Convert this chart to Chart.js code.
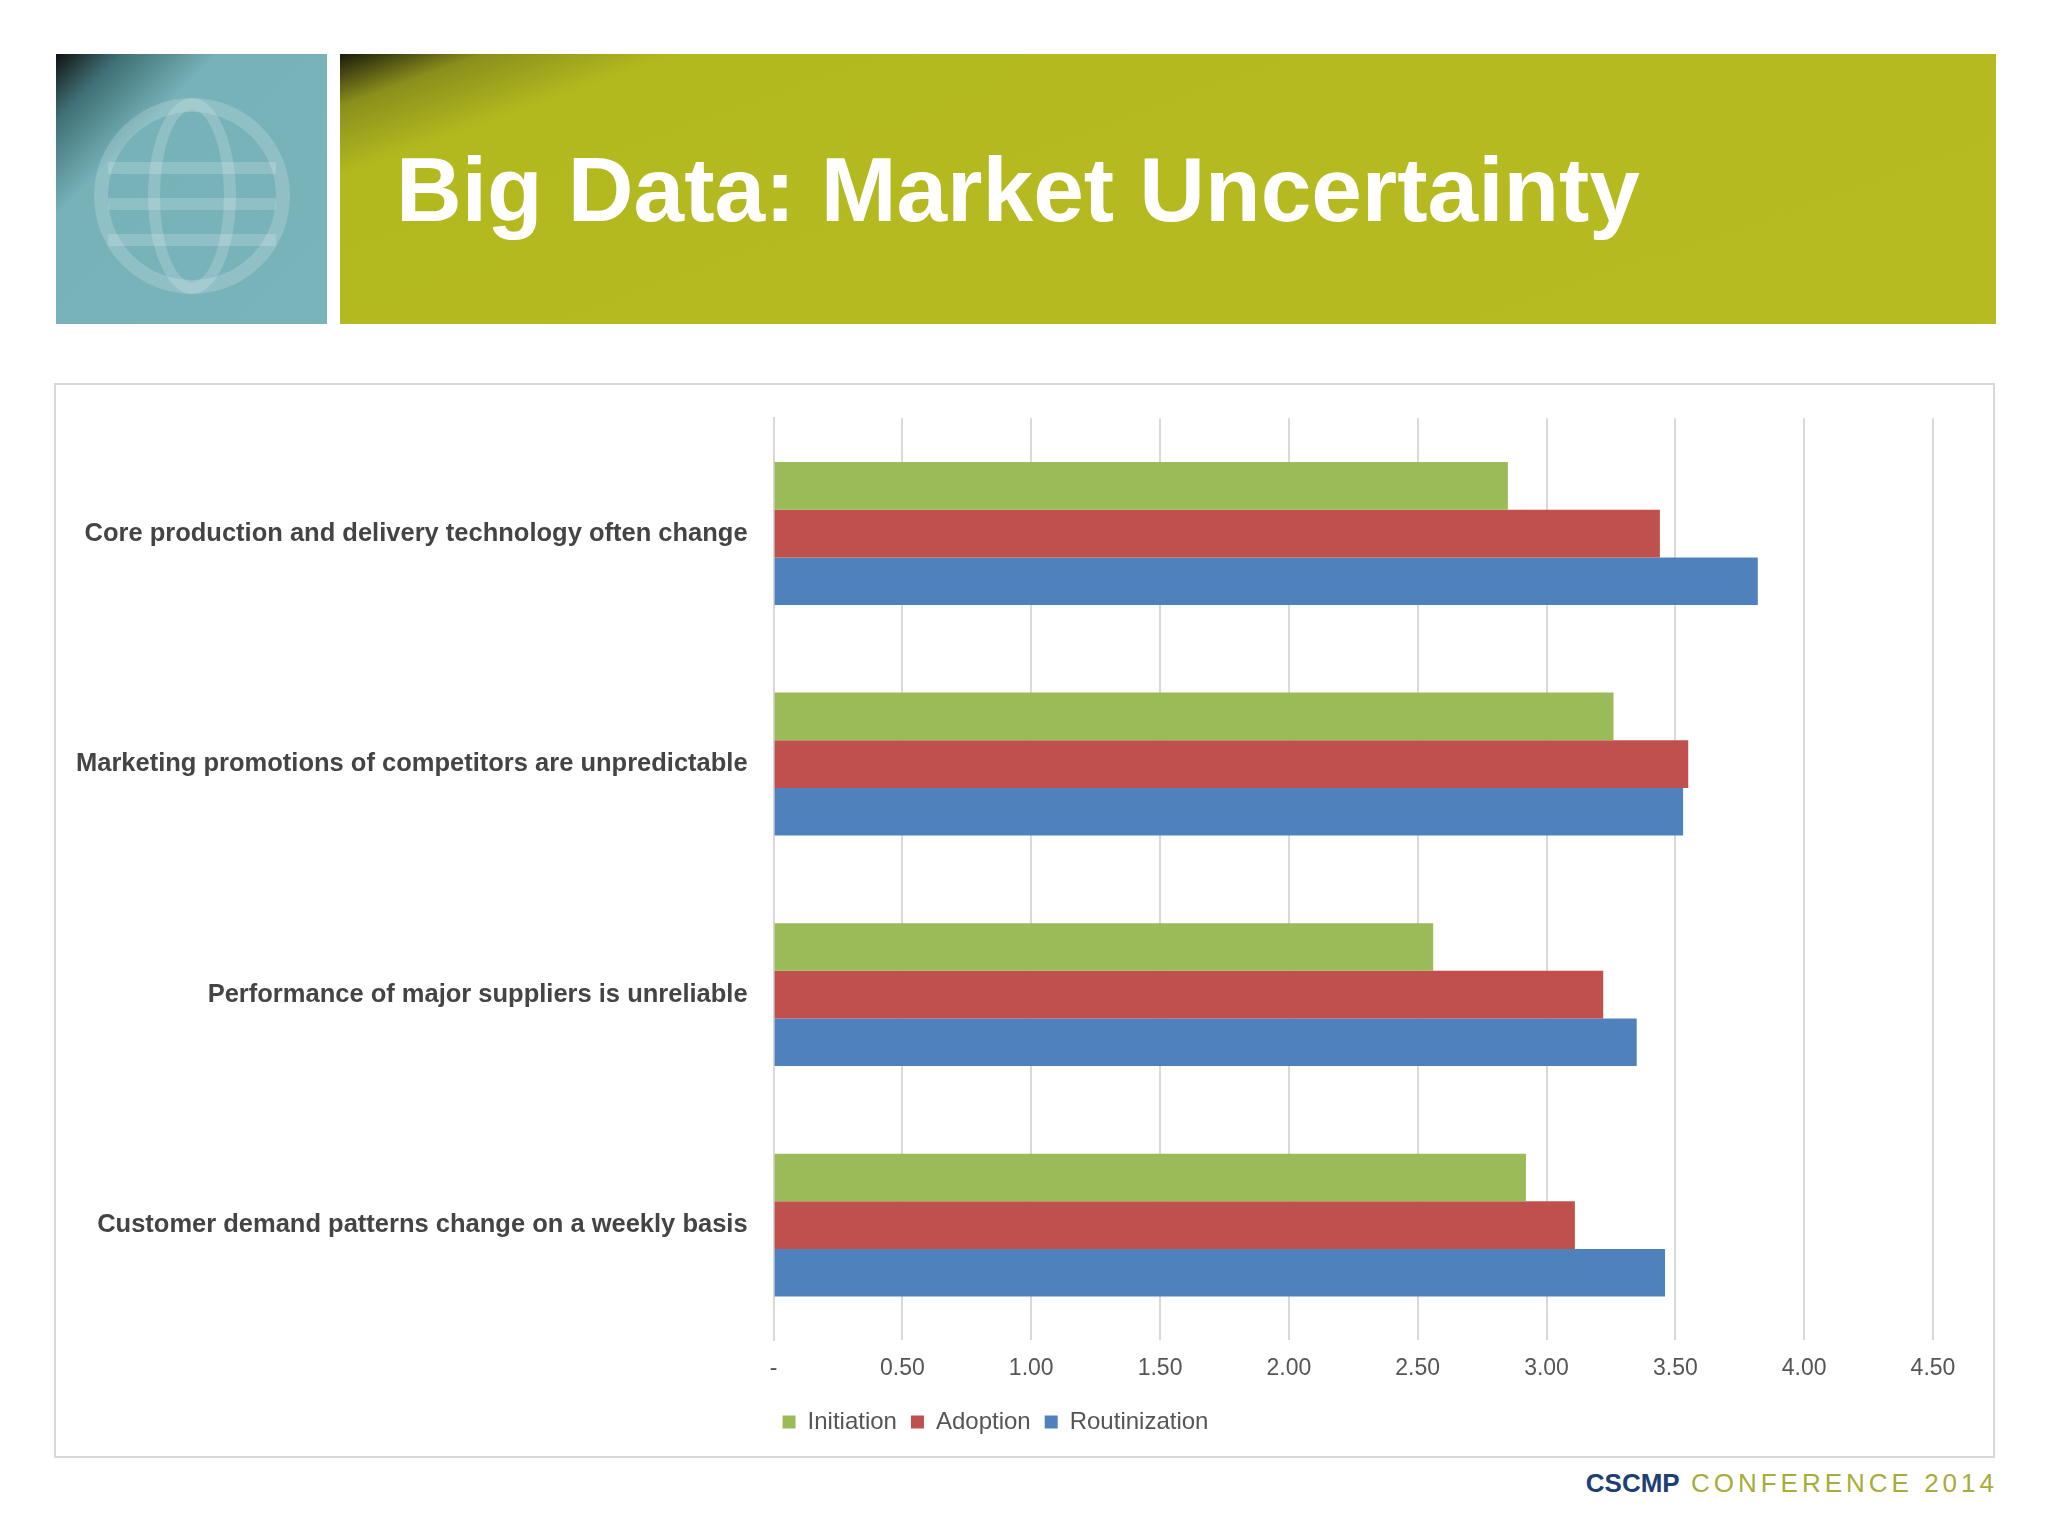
<!DOCTYPE html>
<html>
<head>
<meta charset="utf-8">
<script src="https://cdn.jsdelivr.net/npm/chart.js@4"></script>
<style>
  body { margin: 0; width: 2048px; height: 1536px; background: #fff; position: relative; font-family: "Liberation Sans", Arial, sans-serif; overflow: hidden; }
  #logo { position: absolute; left: 56px; top: 54px; width: 271px; height: 270px;
    background: linear-gradient(135deg, #111 0%, #3f6f74 12%, #76b2b8 30%, #7ab4bb 100%); overflow: hidden; }
  #globe { position: absolute; left: 38px; top: 44px; width: 196px; height: 196px; border: 14px solid rgba(255,255,255,0.18); border-radius: 50%; box-sizing: border-box; }
  #globe .m { position: absolute; left: 40px; top: -14px; width: 88px; height: 196px; border: 12px solid rgba(255,255,255,0.18); border-radius: 50%; box-sizing: border-box; }
  #globe .h { position: absolute; left: 0; right: 0; height: 12px; background: rgba(255,255,255,0.18); }
  #banner { position: absolute; left: 340px; top: 54px; width: 1656px; height: 270px;
    background: linear-gradient(160deg, #1a1a0a 0%, #8a8f1c 6%, #b2b91e 14%, #b7bb22 100%); }
  #banner h1 { margin: 0; position: absolute; left: 56px; top: 84px; color: #fff; font-size: 91px; font-weight: bold; }
  #box { position: absolute; left: 54px; top: 383px; width: 1941px; height: 1075px; border: 2px solid #d8d8d8; box-sizing: border-box; }
  #footer { position: absolute; right: 50px; top: 1468px; font-size: 26px; letter-spacing: 4px; color: #a7ac3a; }
  #footer b { color: #1f3e73; letter-spacing: 0; }
</style>
</head>
<body>
<div id="logo"><div id="globe"><div class="m"></div><div class="h" style="top:50px"></div><div class="h" style="top:86px"></div><div class="h" style="top:122px"></div></div></div>
<div id="banner"><h1>Big Data: Market Uncertainty</h1></div>
<div id="box"><canvas id="chart" width="1937" height="1071"></canvas></div>
<div id="footer"><b>CSCMP</b> CONFERENCE 2014</div>
<script>
const categories = [
  "Core production and delivery technology often change",
  "Marketing promotions of competitors are unpredictable",
  "Performance of major suppliers is unreliable",
  "Customer demand patterns change on a weekly basis"
];
const initiation = [2.85, 3.26, 2.56, 2.92];
const adoption = [3.44, 3.55, 3.22, 3.11];
const routinization = [3.82, 3.53, 3.35, 3.46];
const seriesNames = ["Initiation", "Adoption", "Routinization"];

new Chart(document.getElementById("chart"), {
  type: "bar",
  data: {
    labels: categories,
    datasets: [
      { label: seriesNames[0], data: initiation, backgroundColor: "#9bbb59" },
      { label: seriesNames[1], data: adoption, backgroundColor: "#c0504d" },
      { label: seriesNames[2], data: routinization, backgroundColor: "#4f81bd" }
    ]
  },
  options: {
    indexAxis: "y",
    responsive: false,
    animation: false,
    categoryPercentage: 0.62,
    barPercentage: 1,
    layout: { padding: { left: 2, right: 60, top: 30, bottom: 12 } },
    scales: {
      x: {
        min: 0, max: 4.5,
        ticks: { stepSize: 0.5, color: "#555", font: { size: 23 }, padding: 14,
          callback: v => v === 0 ? "-" : v.toFixed(2) },
        grid: { color: "#d9d9d9", lineWidth: 2, drawTicks: false },
        border: { display: false }
      },
      y: {
        ticks: { color: "#444", font: { size: 25.5, weight: "bold" }, padding: 18 },
        grid: { display: false },
        border: { color: "#d9d9d9", width: 2 }
      }
    },
    plugins: {
      legend: {
        position: "bottom",
        align: "center",
        labels: { boxWidth: 13, boxHeight: 13, color: "#555", font: { size: 24 }, padding: 14 }
      },
      tooltip: { enabled: false }
    }
  }
});
</script>
</body>
</html>
